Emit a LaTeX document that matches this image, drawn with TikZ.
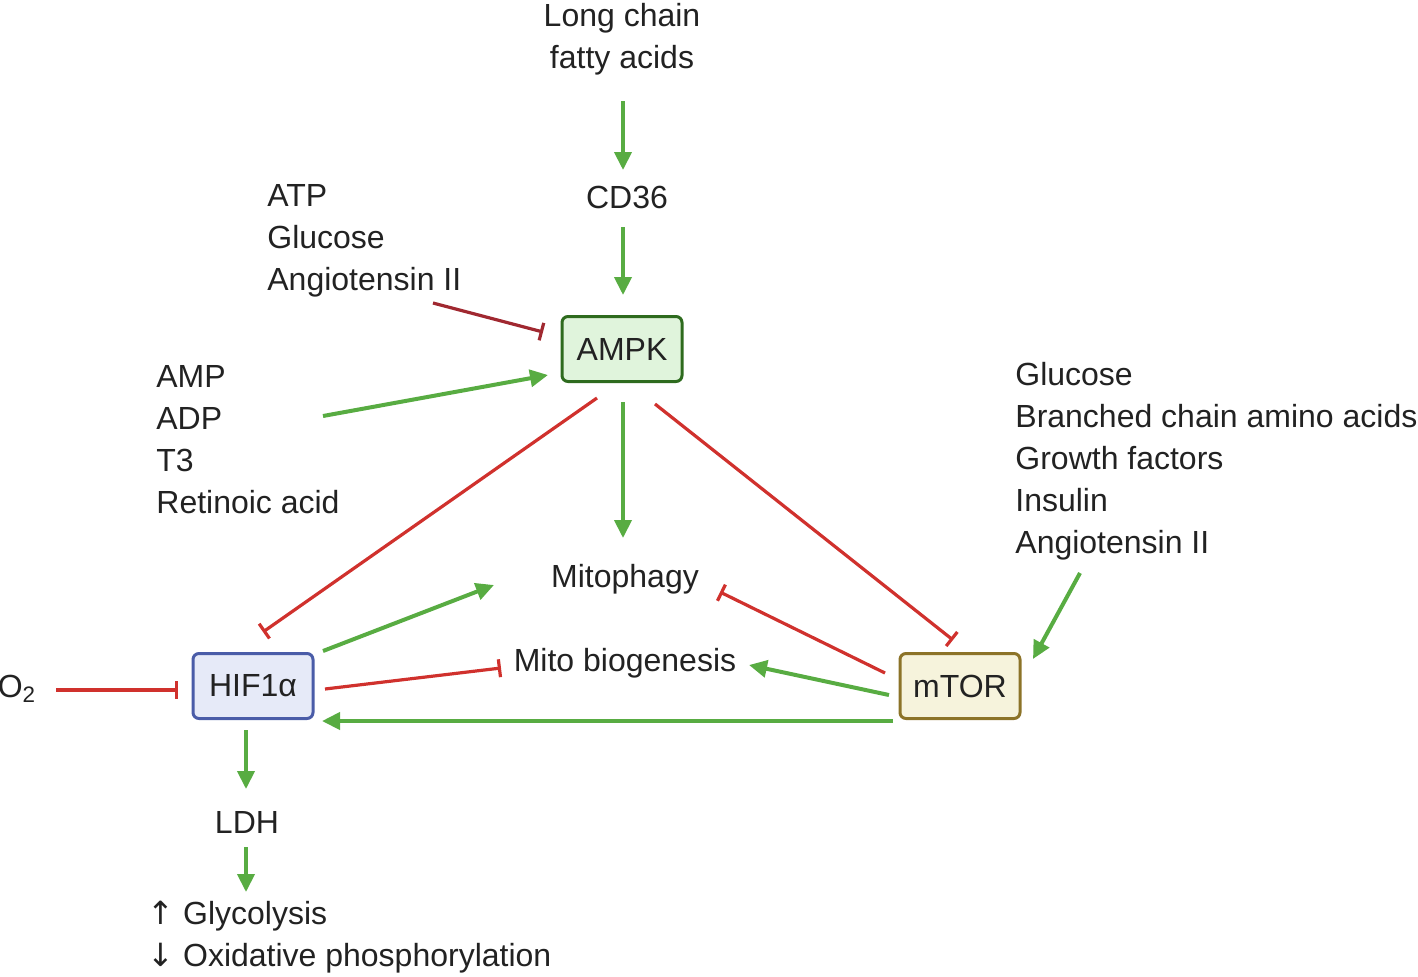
\documentclass[tikz,border=0pt]{standalone}
\usepackage{fontspec}
\setmainfont{Liberation Sans}
\newfontfamily\djv{DejaVu Sans}
\usetikzlibrary{arrows.meta}
\definecolor{grn}{RGB}{88,172,66}
\definecolor{rd}{RGB}{208,49,45}
\definecolor{drd}{RGB}{160,40,48}
\definecolor{txt}{RGB}{34,34,34}
\definecolor{ampkfill}{RGB}{224,244,220}
\definecolor{ampkline}{RGB}{46,107,30}
\definecolor{hiffill}{RGB}{230,234,248}
\definecolor{hifline}{RGB}{74,92,168}
\definecolor{mtorfill}{RGB}{246,243,220}
\definecolor{mtorline}{RGB}{140,115,40}
\tikzset{
  lbl/.style={text=txt, font=\fontsize{16pt}{21pt}\selectfont, inner sep=0pt},
  lst/.style={lbl, align=left, anchor=west},
  hub/.style={lbl, draw, line width=1.5pt, rounded corners=3pt, minimum width=60pt, minimum height=32.5pt},
  act/.style={draw=grn, line width=2pt, -{Triangle[length=9pt,width=8.5pt]}},
  inh/.style={draw=rd, line width=1.6pt, -{Bar[width=9pt,line width=1.6pt]}},
  inhd/.style={draw=drd, line width=1.6pt, -{Bar[width=9pt,line width=1.6pt]}},
}
\begin{document}
\begin{tikzpicture}[x=0.5pt,y=-0.5pt]
\useasboundingbox (0,0) rectangle (1418,976);
% nodes
\node[lbl, align=center] (lcfa) at (622,39) {Long chain\\fatty acids};
\node[lbl] (cd36) at (627,197) {CD36};
\node[lst] (atp) at (267,241) {ATP\\Glucose\\Angiotensin II};
\node[hub, draw=ampkline, fill=ampkfill] (ampk) at (622,349) {AMPK};
\node[lst] (amp) at (156,440) {AMP\\ADP\\T3\\Retinoic acid};
\node[lst] (glc) at (1015,461) {Glucose\\Branched chain amino acids\\Growth factors\\Insulin\\Angiotensin II};
\node[lbl] (mitoph) at (625,579) {Mitophagy};
\node[lbl] (mitob) at (625,663) {Mito biogenesis};
\node[hub, draw=hifline, fill=hiffill] (hif) at (253,686) {HIF1α};
\node[hub, draw=mtorline, fill=mtorfill] (mtor) at (960,686) {mTOR};
\node[lbl] (o2) at (17,689) {O\textsubscript{2}};
\node[lbl] (ldh) at (247,822) {LDH};
\node[lst] (out) at (147,937) {{\djv ↑} Glycolysis\\{\djv ↓} Oxidative phosphorylation};
% coordinates
\coordinate (a1s) at (623,101); \coordinate (a1e) at (623,170);
\coordinate (a2s) at (623,227); \coordinate (a2e) at (623,295);
\coordinate (i1s) at (433,303); \coordinate (i1e) at (543,332);
\coordinate (a3s) at (323,416); \coordinate (a3e) at (548,375);
\coordinate (i2s) at (597,398); \coordinate (i2e) at (263,632);
\coordinate (a4s) at (623,402); \coordinate (a4e) at (623,538);
\coordinate (i3s) at (655,404); \coordinate (i3e) at (953,640);
\coordinate (a5s) at (1080,573); \coordinate (a5e) at (1033,659);
\coordinate (a6s) at (323,651); \coordinate (a6e) at (494,585);
\coordinate (i4s) at (325,689); \coordinate (i4e) at (501,668);
\coordinate (i5s) at (885,673); \coordinate (i5e) at (720,592);
\coordinate (a7s) at (889,695); \coordinate (a7e) at (749,665);
\coordinate (a8s) at (893,721); \coordinate (a8e) at (322,721);
\coordinate (i6s) at (56,690); \coordinate (i6e) at (178,690);
\coordinate (a9s) at (246,730); \coordinate (a9e) at (246,789);
\coordinate (a10s) at (246,847); \coordinate (a10e) at (246,892);
% connectors
\draw[act] (a1s) -- (a1e);
\draw[act] (a2s) -- (a2e);
\draw[inhd] (i1s) -- (i1e);
\draw[act] (a3s) -- (a3e);
\draw[inh] (i2s) -- (i2e);
\draw[act] (a4s) -- (a4e);
\draw[inh] (i3s) -- (i3e);
\draw[act] (a5s) -- (a5e);
\draw[act] (a6s) -- (a6e);
\draw[inh] (i4s) -- (i4e);
\draw[inh] (i5s) -- (i5e);
\draw[act] (a7s) -- (a7e);
\draw[act] (a8s) -- (a8e);
\draw[inh] (i6s) -- (i6e);
\draw[act] (a9s) -- (a9e);
\draw[act] (a10s) -- (a10e);
\end{tikzpicture}
\end{document}
